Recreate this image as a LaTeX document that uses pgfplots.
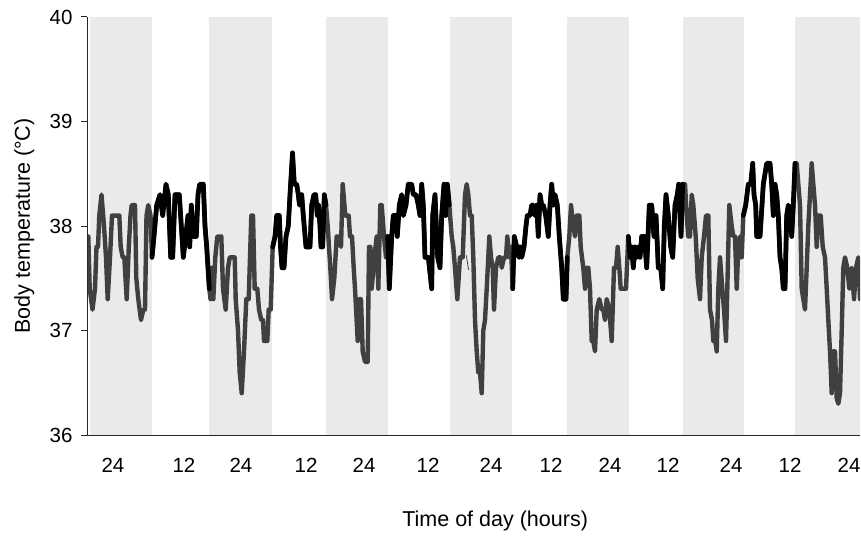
\documentclass[border=0pt]{standalone}
\usepackage{fontspec}
\setmainfont{Liberation Sans}
\usepackage{pgfplots}
\usepackage{pgfplotstable}
\pgfplotsset{compat=1.18}
\definecolor{band}{RGB}{234,234,234}
\definecolor{nightline}{RGB}{64,64,64}
% x = horizontal position along the time axis (chart units), y = body temperature (deg C)
\pgfplotstableread{
x y
88.3 37.9
89.7 37.4
92.5 37.2
95 37.4
96.5 37.8
98 37.8
99.3 38.1
101.5 38.3
104 38.0
106 37.7
107.7 37.3
110 37.7
112 38.1
119.3 38.1
120.7 37.8
122.7 37.7
124.3 37.7
126.7 37.3
128.8 37.8
130.5 38.1
131.7 38.2
135 38.2
136.3 37.5
138.3 37.3
141 37.1
143.3 37.2
145 37.2
146.5 38.1
148.3 38.2
150.5 38.1
152 37.7
154 37.9
156.7 38.2
160 38.3
162.7 38.1
166 38.4
168.3 38.3
170.7 37.7
172.7 37.7
175 38.3
179.3 38.3
181.3 38.0
183.3 37.7
185.7 37.9
188 38.1
189.7 37.8
191.3 38.2
193.7 37.9
196.3 37.9
198 38.3
199.7 38.4
203.3 38.4
205 38.0
206.7 37.8
209.3 37.4
210.5 37.3
211.7 37.6
213.3 37.3
215.3 37.7
217.3 37.9
221.3 37.9
223 37.4
225.7 37.2
228 37.6
229.7 37.7
234.7 37.7
235.7 37.3
238 37.0
239.7 36.6
241.7 36.4
244 36.8
246.3 37.3
248.7 37.3
251.3 38.1
253 38.1
254.7 37.4
257.3 37.4
259 37.2
261.3 37.1
263 37.1
264 36.9
267.3 36.9
268.7 37.2
270.7 37.2
272.7 37.8
275 37.9
276.7 38.1
279.3 38.1
280.5 37.8
282 37.6
284 37.6
286 37.9
288.3 38.0
290 38.3
292.5 38.7
294.3 38.4
296.7 38.4
298.3 38.3
299.5 38.2
301.7 38.3
303.3 38.1
306 37.8
310 37.8
311.7 38.2
314 38.3
315.7 38.3
317.3 38.1
318.5 38.2
320 38.0
321 37.8
322.7 37.8
324.3 38.3
326 38.2
327.7 38.0
330.3 37.6
332 37.3
334.3 37.5
336.7 37.9
339.3 37.9
341 37.8
342.7 38.4
345.3 38.1
348.7 38.1
350 37.9
352 37.9
353.7 37.6
355 37.4
357.7 36.9
359.3 37.3
361 37.3
362.7 36.8
365 36.7
367.7 36.7
369 37.8
370.3 37.8
371.7 37.4
374.3 37.7
376.7 37.9
378.3 37.4
380.3 38.2
381.7 38.2
384 37.9
386 37.7
387.7 37.9
389.3 37.4
391.7 37.9
393.3 38.1
396 38.1
397.3 37.9
399.3 38.2
401.7 38.3
403.3 38.1
406 38.2
408.3 38.4
411.7 38.4
413.3 38.3
416 38.3
418.3 38.2
420 38.1
421.7 38.4
423.3 38.2
425 37.7
428.3 37.7
431.7 37.4
432.7 38.1
435 38.3
437.7 37.7
440 37.6
441.7 38.1
444 38.4
445.7 38.1
447.3 38.4
449.3 38.2
451.7 37.9
453.3 37.8
455 37.6
457.3 37.3
460 37.7
462.7 37.7
465 38.3
466.7 38.4
468.3 38.3
470 38.1
471.7 38.1
473.3 37.7
475 37.1
476.7 36.8
478.3 36.6
480 36.6
481.7 36.4
483.3 37.0
485 37.1
486.7 37.4
488.3 37.7
489.3 37.9
491 37.7
492.7 37.6
494 37.2
496 37.6
498.3 37.7
500.7 37.7
501.7 37.6
504 37.7
506 37.7
507.3 37.9
509.3 37.7
511 37.8
512.7 37.4
514.3 37.9
516.7 37.8
519 37.7
520 37.8
521.7 37.7
524 37.8
526 38.0
527.3 38.1
530 38.1
531.7 38.2
533.3 38.2
535 38.1
536.7 38.2
538.3 37.9
540 38.3
541.7 38.2
543.3 38.2
545.7 38.1
548.3 37.9
550 38.2
551.7 38.4
553.3 38.2
555 38.3
557.3 38.2
559.3 37.9
561.7 37.6
563.3 37.3
566 37.3
567.3 37.7
569.3 37.9
571 38.2
573.3 38.0
575 37.9
576.7 38.1
579.3 38.1
580.7 37.8
583.3 37.6
585 37.4
586.7 37.6
588.3 37.6
590 37.4
591.7 36.9
593.3 36.9
595 36.8
596.7 37.2
599.3 37.3
601.7 37.2
603.3 37.2
605 37.1
606.7 37.3
609.3 37.2
611.7 36.9
614 37.6
616 37.6
617.7 37.8
619.3 37.6
620.7 37.4
623.3 37.4
626 37.4
628.3 37.9
630 37.7
631.7 37.8
633.3 37.6
635 37.8
636.7 37.7
638.3 37.8
640 37.7
641.7 37.9
644.3 37.9
646.7 37.6
649.3 38.2
651.7 38.2
654 37.9
656 38.1
658.3 37.6
660.7 37.6
662.7 37.4
664.3 38.0
666 38.3
668.3 38.1
670.7 37.8
672.7 37.7
675 38.2
677.3 38.3
678.7 38.4
680 38.1
681 37.9
682.7 38.4
685 38.4
686.7 38.1
688.3 37.9
690 37.9
691.7 38.3
693.3 38.2
695.7 37.9
697.7 37.5
700 37.3
701.7 37.7
704 37.9
706 38.1
708.3 38.1
710 37.2
712 37.1
713.3 36.9
715.3 36.9
716.7 36.8
718.3 37.4
720 37.7
722.3 37.4
724 37.2
726 36.9
727.3 37.4
729.3 38.2
731.7 38.0
733.3 37.9
735 37.9
736.7 37.4
738.3 37.8
740 37.9
741.7 37.7
743.3 38.1
745.7 38.2
748.3 38.4
750.7 38.4
752.7 38.6
754 38.3
755.7 38.2
756.7 37.9
760 37.9
762 38.2
763.3 38.4
765 38.5
766.7 38.6
770 38.6
771.7 38.4
773.3 38.1
775 38.4
776.7 38.3
778.3 38.1
780 37.7
781.7 37.6
783.3 37.4
785 37.4
786.7 38.1
788.3 38.2
790 38.1
791.7 37.9
793.3 38.2
795 38.6
796.7 38.6
798.3 38.4
800 38.2
801.7 37.4
803.3 37.3
805 37.2
806.7 37.6
808.3 38.0
810 38.3
811.7 38.6
813.3 38.4
815 38.2
816.7 37.8
818.3 38.1
820.7 38.1
822.7 37.8
825 37.7
826.7 37.4
828.3 37.1
830 36.8
831.7 36.4
833.3 36.8
835 36.8
836.7 36.35
838.3 36.3
840 36.4
841.7 37.0
843.3 37.6
845 37.7
847.3 37.6
849.3 37.4
851.7 37.6
854 37.3
856 37.6
858.3 37.7
860 37.3
}\tempdata

\begin{document}
\begin{tikzpicture}[x=1pt,y=1pt]
\useasboundingbox (0,0) rectangle (861,536);
\begin{axis}[
  at={(87pt,101pt)}, anchor=south west,
  scale only axis, width=773pt, height=418pt,
  xmin=87, xmax=860, ymin=36, ymax=40,
  axis lines*=left,
  axis on top=true,
  axis line style={line width=1pt, color=black!85},
  ytick={36,37,38,39,40},
  xtick={113,184,241,306,364,428,491,551,610,668,731,790,849},
  xticklabels={24,12,24,12,24,12,24,12,24,12,24,12,24},
  tick align=outside,
  major tick length=6pt,
  xtick style={draw=none},
  ytick style={line width=1pt, color=black!85},
  tick label style={font=\fontsize{20.5}{24}\selectfont},
  label style={font=\fontsize{21.5}{25}\selectfont},
  /pgf/number format/assume math mode=true,
  xticklabel style={yshift=-14pt},
  yticklabel style={xshift=-5pt},
  xlabel={Time of day (hours)},
  ylabel={Body temperature (°C)},
  xlabel style={at={(axis description cs:0.528,-0.206)}, anchor=center},
  ylabel style={at={(axis description cs:-0.081,0.5)}, anchor=center},
  clip=true,
]
% night bands
\addplot[draw=none, fill=band] coordinates {(90,36) (90,40) (152,40) (152,36)} -- cycle;
\addplot[draw=none, fill=band] coordinates {(209,36) (209,40) (272,40) (272,36)} -- cycle;
\addplot[draw=none, fill=band] coordinates {(326,36) (326,40) (388,40) (388,36)} -- cycle;
\addplot[draw=none, fill=band] coordinates {(450,36) (450,40) (512,40) (512,36)} -- cycle;
\addplot[draw=none, fill=band] coordinates {(567,36) (567,40) (629,40) (629,36)} -- cycle;
\addplot[draw=none, fill=band] coordinates {(683,36) (683,40) (744,40) (744,36)} -- cycle;
\addplot[draw=none, fill=band] coordinates {(795,36) (795,40) (860,40) (860,36)} -- cycle;
% full series (night colour)
\addplot[nightline, line width=4.4pt, line join=round, line cap=round] table {\tempdata};
% day segments in black
\addplot[black, line width=4.7pt, line join=round, line cap=round, restrict x to domain=152:209.3] table {\tempdata};
\addplot[black, line width=4.7pt, line join=round, line cap=round, restrict x to domain=272.7:326] table {\tempdata};
\addplot[black, line width=4.7pt, line join=round, line cap=round, restrict x to domain=387.7:449.3] table {\tempdata};
\addplot[black, line width=4.7pt, line join=round, line cap=round, restrict x to domain=512.7:567.3] table {\tempdata};
\addplot[black, line width=4.7pt, line join=round, line cap=round, restrict x to domain=628.3:682.7] table {\tempdata};
\addplot[black, line width=4.7pt, line join=round, line cap=round, restrict x to domain=743.3:795] table {\tempdata};
% thin stray stroke
\addplot[nightline, line width=0.8pt] coordinates {(466.3,37.72) (468.6,37.58)};
\end{axis}
\end{tikzpicture}
\end{document}
